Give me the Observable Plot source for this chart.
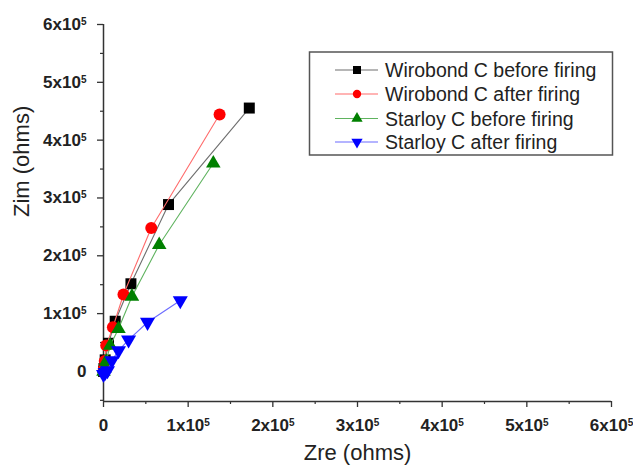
<!DOCTYPE html>
<html>
<head>
<meta charset="utf-8">
<script src="https://cdn.jsdelivr.net/npm/d3@7"></script>
<script src="https://cdn.jsdelivr.net/npm/@observablehq/plot@0.6"></script>
<style>
  html, body { margin: 0; padding: 0; background: #fff; }
  #wrap { position: relative; width: 633px; height: 468px; font-family: "Liberation Sans", Arial, sans-serif; }
  #legend { position: absolute; left: 0; top: 0; }
</style>
</head>
<body>
<div id="wrap"></div>
<script>
// ---- data (ohms) ----
const seriesNames = ["Wirobond C before firing", "Wirobond C after firing", "Starloy C before firing", "Starloy C after firing"];
const wbBeforeZre = [0, 500, 2000, 5900, 13800, 32400, 76800, 172200];
const wbBeforeZim = [0, 5000, 20000, 48700, 86800, 151600, 288600, 455500];
const wbAfterZre  = [0, 600, 1500, 3200, 11100, 23600, 56400, 137100];
const wbAfterZim  = [0, 6000, 18000, 44700, 76400, 133000, 248000, 444500];
const stBeforeZre = [0, 1000, 3000, 7900, 17700, 33600, 65800, 129700];
const stBeforeZim = [0, 5000, 17000, 44700, 73700, 129600, 219000, 360000];
const stAfterZre  = [0, 2000, 4700, 9900, 17700, 29600, 52000, 90700];
const stAfterZim  = [-5000, -1500, 1400, 18700, 36000, 54600, 85100, 122700];
const xTickValues = [0, 100000, 200000, 300000, 400000, 500000, 600000];
const yTickValues = [0, 100000, 200000, 300000, 400000, 500000, 600000];
const xMinorValues = [50000, 150000, 250000, 350000, 450000, 550000];
const yMinorValues = [-50000, 50000, 150000, 250000, 350000, 450000, 550000];
const xLabel = "Zre (ohms)";
const yLabel = "Zim (ohms)";

const markerColors = ["#000000", "#ff0000", "#008000", "#0000ff"];
const lineColors = ["#6e6e6e", "#ff6b6b", "#5fb35f", "#6b6bff"];

const triDown = {
  draw(ctx, size) {
    const y = -Math.sqrt(size / (Math.sqrt(3) * 3));
    ctx.moveTo(0, -y * 2);
    ctx.lineTo(-Math.sqrt(3) * y, y);
    ctx.lineTo(Math.sqrt(3) * y, y);
    ctx.closePath();
  }
};
const symbols = ["square", "circle", "triangle", triDown];
const radii = [6.2, 6, 5.4, 5.6];

const xs = [wbBeforeZre, wbAfterZre, stBeforeZre, stAfterZre];
const ys = [wbBeforeZim, wbAfterZim, stBeforeZim, stAfterZim];
const series = seriesNames.map((name, i) => xs[i].map((x, j) => ({name, zre: x, zim: ys[i][j]})));

const fmt = d => d === 0 ? "0" : `${d / 100000}x10`;
const tickFont = "'Liberation Sans Narrow', 'Liberation Sans', Arial, sans-serif";

const marks = [
  Plot.axisX({ticks: xMinorValues, tickSize: 3, tickFormat: () => "", label: null, stroke: "#333", strokeWidth: 1.2}),
  Plot.axisY({ticks: yMinorValues, tickSize: 3, tickFormat: () => "", label: null, stroke: "#333", strokeWidth: 1.2}),
  Plot.axisX({ticks: xTickValues, tickSize: 6, tickPadding: 11, tickFormat: fmt, label: null,
    fontSize: 17, fontWeight: "bold", fontFamily: tickFont, stroke: "#333", strokeWidth: 1.3, fill: "#222"}),
  Plot.axisY({ticks: yTickValues, tickSize: 6, tickPadding: 11, tickFormat: fmt, label: null,
    fontSize: 17, fontWeight: "bold", fontFamily: tickFont, stroke: "#333", strokeWidth: 1.3, fill: "#222"}),
  Plot.ruleX([0], {stroke: "#333", strokeWidth: 1.5}),
  Plot.ruleY([-52000], {stroke: "#333", strokeWidth: 1.5}),
  Plot.text([xLabel], {frameAnchor: "bottom", dy: 58, fontSize: 22, fill: "#222"}),
  Plot.text([yLabel], {frameAnchor: "left", dx: -82, dy: 4, rotate: -90, fontSize: 22, fill: "#222"})
];
series.forEach((s, i) => {
  marks.push(Plot.line(s, {x: "zre", y: "zim", stroke: lineColors[i], strokeWidth: 1.1}));
  marks.push(Plot.dot(s, {x: "zre", y: "zim", symbol: () => symbols[i], r: radii[i], fill: markerColors[i], stroke: "none"}));
});

const chart = Plot.plot({
  width: 633,
  height: 468,
  marginLeft: 103,
  marginRight: 22,
  marginTop: 24,
  marginBottom: 67,
  x: {domain: [0, 600000]},
  y: {domain: [-52000, 600000]},
  symbol: {type: "identity"},
  style: {fontFamily: "'Liberation Sans', Arial, sans-serif", background: "#fff", color: "#222"},
  marks
});
document.getElementById("wrap").appendChild(chart);

// superscript exponents on tick labels
d3.select(chart).selectAll("text").each(function () {
  const t = this.textContent;
  if (/^\dx10$/.test(t)) {
    d3.select(this).append("tspan").attr("dy", "-0.5em").attr("font-size", "10px").text("5");
  }
});

// legend
const W = 633, H = 468;
const leg = d3.select("#wrap").append("svg").attr("id", "legend").attr("width", W).attr("height", H)
  .style("font-family", "'Liberation Sans', Arial, sans-serif");
leg.append("rect").attr("x", 309.5).attr("y", 52).attr("width", 303).attr("height", 103)
  .attr("fill", "none").attr("stroke", "#555").attr("stroke-width", 1.5);
const rowY = [70, 94, 118.5, 142];
const legSyms = [d3.symbolSquare, d3.symbolCircle, d3.symbolTriangle, triDown];
const legSizes = [64, 55, 55, 55];
seriesNames.forEach((name, i) => {
  const g = leg.append("g").attr("transform", `translate(0,${rowY[i]})`);
  g.append("line").attr("x1", 335).attr("x2", 378).attr("y1", 0).attr("y2", 0)
    .attr("stroke", lineColors[i]).attr("stroke-width", 1.1);
  g.append("path").attr("transform", "translate(357,0)").attr("d", d3.symbol(legSyms[i], legSizes[i])())
    .attr("fill", markerColors[i]);
  g.append("text").attr("x", 385).attr("y", 7).attr("font-size", 19.5).attr("fill", "#222").text(name);
});
</script>
</body>
</html>
